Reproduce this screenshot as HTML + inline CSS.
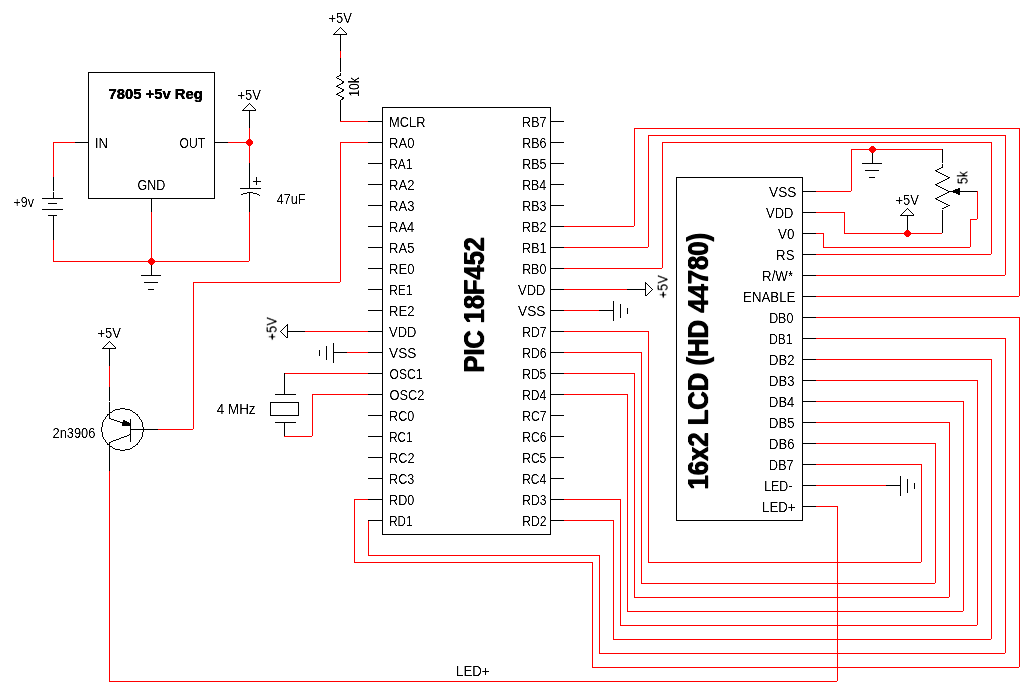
<!DOCTYPE html>
<html><head><meta charset="utf-8"><style>
html,body{margin:0;padding:0;background:#fff;width:1035px;height:696px;overflow:hidden}
svg{display:block}
text{font-family:"Liberation Sans",sans-serif;fill:#000}
</style></head><body>
<svg width="1035" height="696" viewBox="0 0 1035 696" shape-rendering="crispEdges">
<rect x="0" y="0" width="1035" height="696" fill="#fff"/>
<rect x="88" y="72" width="127" height="1" fill="#000000"/>
<rect x="88" y="198" width="127" height="1" fill="#000000"/>
<rect x="88" y="72" width="1" height="127" fill="#000000"/>
<rect x="214" y="72" width="1" height="127" fill="#000000"/>
<rect x="74" y="142" width="15" height="1" fill="#000000"/>
<rect x="53" y="142" width="22" height="1" fill="#ff0000"/>
<rect x="53" y="142" width="1" height="36" fill="#ff0000"/>
<rect x="53" y="177" width="1" height="14" fill="#000000"/>
<rect x="53" y="192" width="1" height="7" fill="#000000"/>
<rect x="42" y="198" width="21" height="1" fill="#000000"/>
<rect x="48" y="203" width="9" height="1" fill="#000000"/>
<rect x="42" y="209" width="21" height="1" fill="#000000"/>
<rect x="48" y="215" width="9" height="1" fill="#000000"/>
<rect x="53" y="215" width="1" height="26" fill="#000000"/>
<rect x="53" y="240" width="1" height="22" fill="#ff0000"/>
<rect x="53" y="261" width="197" height="1" fill="#ff0000"/>
<rect x="151" y="198" width="1" height="15" fill="#000000"/>
<rect x="151" y="212" width="1" height="50" fill="#ff0000"/>
<rect x="151" y="261" width="1" height="15" fill="#000000"/>
<rect x="141" y="275" width="20" height="1" fill="#000000"/>
<rect x="144" y="282" width="14" height="1" fill="#000000"/>
<rect x="148" y="289" width="6" height="1" fill="#000000"/>
<rect x="214" y="142" width="15" height="1" fill="#000000"/>
<rect x="228" y="142" width="22" height="1" fill="#ff0000"/>
<rect x="242" y="110" width="14" height="1" fill="#000000"/>
<rect x="249" y="103" width="1" height="1" fill="#000000"/>
<rect x="248" y="104" width="1" height="1" fill="#000000"/>
<rect x="247" y="105" width="1" height="1" fill="#000000"/>
<rect x="246" y="106" width="1" height="1" fill="#000000"/>
<rect x="245" y="107" width="1" height="1" fill="#000000"/>
<rect x="244" y="108" width="1" height="1" fill="#000000"/>
<rect x="243" y="109" width="1" height="1" fill="#000000"/>
<rect x="242" y="110" width="1" height="1" fill="#000000"/>
<rect x="249" y="103" width="1" height="1" fill="#000000"/>
<rect x="250" y="104" width="1" height="1" fill="#000000"/>
<rect x="251" y="105" width="1" height="1" fill="#000000"/>
<rect x="252" y="106" width="1" height="1" fill="#000000"/>
<rect x="253" y="107" width="1" height="1" fill="#000000"/>
<rect x="254" y="108" width="1" height="1" fill="#000000"/>
<rect x="255" y="109" width="1" height="1" fill="#000000"/>
<rect x="249" y="110" width="1" height="19" fill="#000000"/>
<rect x="249" y="128" width="1" height="35" fill="#ff0000"/>
<rect x="249" y="163" width="1" height="26" fill="#000000"/>
<rect x="240" y="188" width="21" height="1" fill="#000000"/>
<rect x="241" y="194" width="2" height="1" fill="#000000"/>
<rect x="243" y="193" width="4" height="1" fill="#000000"/>
<rect x="247" y="192" width="6" height="1" fill="#000000"/>
<rect x="253" y="193" width="4" height="1" fill="#000000"/>
<rect x="257" y="194" width="2" height="1" fill="#000000"/>
<rect x="259" y="195" width="1" height="1" fill="#000000"/>
<rect x="249" y="192" width="1" height="21" fill="#000000"/>
<rect x="249" y="212" width="1" height="50" fill="#ff0000"/>
<rect x="253" y="181" width="8" height="1" fill="#000000"/>
<rect x="256" y="177" width="1" height="8" fill="#000000"/>
<rect x="333" y="34" width="14" height="1" fill="#000000"/>
<rect x="340" y="27" width="1" height="1" fill="#000000"/>
<rect x="339" y="28" width="1" height="1" fill="#000000"/>
<rect x="338" y="29" width="1" height="1" fill="#000000"/>
<rect x="337" y="30" width="1" height="1" fill="#000000"/>
<rect x="336" y="31" width="1" height="1" fill="#000000"/>
<rect x="335" y="32" width="1" height="1" fill="#000000"/>
<rect x="334" y="33" width="1" height="1" fill="#000000"/>
<rect x="333" y="34" width="1" height="1" fill="#000000"/>
<rect x="340" y="27" width="1" height="1" fill="#000000"/>
<rect x="341" y="28" width="1" height="1" fill="#000000"/>
<rect x="342" y="29" width="1" height="1" fill="#000000"/>
<rect x="343" y="30" width="1" height="1" fill="#000000"/>
<rect x="344" y="31" width="1" height="1" fill="#000000"/>
<rect x="345" y="32" width="1" height="1" fill="#000000"/>
<rect x="346" y="33" width="1" height="1" fill="#000000"/>
<rect x="340" y="34" width="1" height="18" fill="#000000"/>
<rect x="340" y="51" width="1" height="7" fill="#ff0000"/>
<rect x="340" y="58" width="1" height="14" fill="#000000"/>
<rect x="340" y="73" width="1" height="1" fill="#000000"/>
<rect x="340" y="74" width="1" height="1" fill="#000000"/>
<rect x="339" y="75" width="2" height="1" fill="#000000"/>
<rect x="337" y="76" width="2" height="1" fill="#000000"/>
<rect x="336" y="77" width="1" height="1" fill="#000000"/>
<rect x="337" y="78" width="2" height="1" fill="#000000"/>
<rect x="339" y="79" width="2" height="1" fill="#000000"/>
<rect x="341" y="80" width="1" height="1" fill="#000000"/>
<rect x="342" y="81" width="2" height="1" fill="#000000"/>
<rect x="342" y="82" width="2" height="1" fill="#000000"/>
<rect x="341" y="83" width="2" height="1" fill="#000000"/>
<rect x="339" y="84" width="2" height="1" fill="#000000"/>
<rect x="337" y="85" width="2" height="1" fill="#000000"/>
<rect x="336" y="86" width="2" height="1" fill="#000000"/>
<rect x="338" y="87" width="2" height="1" fill="#000000"/>
<rect x="340" y="88" width="2" height="1" fill="#000000"/>
<rect x="342" y="89" width="2" height="1" fill="#000000"/>
<rect x="342" y="90" width="2" height="1" fill="#000000"/>
<rect x="341" y="91" width="2" height="1" fill="#000000"/>
<rect x="339" y="92" width="2" height="1" fill="#000000"/>
<rect x="337" y="93" width="2" height="1" fill="#000000"/>
<rect x="336" y="94" width="2" height="1" fill="#000000"/>
<rect x="338" y="95" width="2" height="1" fill="#000000"/>
<rect x="340" y="96" width="2" height="1" fill="#000000"/>
<rect x="342" y="97" width="2" height="1" fill="#000000"/>
<rect x="342" y="98" width="2" height="1" fill="#000000"/>
<rect x="341" y="99" width="2" height="1" fill="#000000"/>
<rect x="340" y="100" width="1" height="22" fill="#000000"/>
<rect x="340" y="121" width="29" height="1" fill="#ff0000"/>
<rect x="382" y="107" width="169" height="1" fill="#000000"/>
<rect x="382" y="534" width="169" height="1" fill="#000000"/>
<rect x="382" y="107" width="1" height="428" fill="#000000"/>
<rect x="550" y="107" width="1" height="428" fill="#000000"/>
<rect x="340" y="142" width="29" height="1" fill="#ff0000"/>
<rect x="340" y="142" width="1" height="141" fill="#ff0000"/>
<rect x="193" y="282" width="148" height="1" fill="#ff0000"/>
<rect x="193" y="282" width="1" height="148" fill="#ff0000"/>
<rect x="157" y="429" width="37" height="1" fill="#ff0000"/>
<rect x="130" y="429" width="28" height="1" fill="#000000"/>
<rect x="287" y="324" width="1" height="14" fill="#000000"/>
<rect x="280" y="331" width="1" height="1" fill="#000000"/>
<rect x="281" y="330" width="1" height="1" fill="#000000"/>
<rect x="282" y="329" width="1" height="1" fill="#000000"/>
<rect x="283" y="328" width="1" height="1" fill="#000000"/>
<rect x="284" y="327" width="1" height="1" fill="#000000"/>
<rect x="285" y="326" width="1" height="1" fill="#000000"/>
<rect x="286" y="325" width="1" height="1" fill="#000000"/>
<rect x="287" y="324" width="1" height="1" fill="#000000"/>
<rect x="280" y="331" width="1" height="1" fill="#000000"/>
<rect x="281" y="332" width="1" height="1" fill="#000000"/>
<rect x="282" y="333" width="1" height="1" fill="#000000"/>
<rect x="283" y="334" width="1" height="1" fill="#000000"/>
<rect x="284" y="335" width="1" height="1" fill="#000000"/>
<rect x="285" y="336" width="1" height="1" fill="#000000"/>
<rect x="286" y="337" width="1" height="1" fill="#000000"/>
<rect x="288" y="331" width="18" height="1" fill="#000000"/>
<rect x="305" y="331" width="64" height="1" fill="#ff0000"/>
<rect x="333" y="343" width="1" height="20" fill="#000000"/>
<rect x="326" y="346" width="1" height="14" fill="#000000"/>
<rect x="319" y="350" width="1" height="6" fill="#000000"/>
<rect x="333" y="352" width="15" height="1" fill="#000000"/>
<rect x="347" y="352" width="22" height="1" fill="#ff0000"/>
<rect x="284" y="373" width="85" height="1" fill="#ff0000"/>
<rect x="284" y="373" width="1" height="22" fill="#000000"/>
<rect x="275" y="394" width="21" height="1" fill="#000000"/>
<rect x="270" y="402" width="29" height="1" fill="#000000"/>
<rect x="270" y="415" width="29" height="1" fill="#000000"/>
<rect x="270" y="402" width="1" height="14" fill="#000000"/>
<rect x="298" y="402" width="1" height="14" fill="#000000"/>
<rect x="275" y="422" width="21" height="1" fill="#000000"/>
<rect x="284" y="422" width="1" height="15" fill="#000000"/>
<rect x="284" y="436" width="29" height="1" fill="#ff0000"/>
<rect x="312" y="394" width="1" height="43" fill="#ff0000"/>
<rect x="312" y="394" width="57" height="1" fill="#ff0000"/>
<rect x="354" y="499" width="15" height="1" fill="#ff0000"/>
<rect x="354" y="499" width="1" height="64" fill="#ff0000"/>
<rect x="354" y="562" width="239" height="1" fill="#ff0000"/>
<rect x="592" y="562" width="1" height="106" fill="#ff0000"/>
<rect x="592" y="667" width="428" height="1" fill="#ff0000"/>
<rect x="368" y="520" width="1" height="36" fill="#ff0000"/>
<rect x="368" y="555" width="232" height="1" fill="#ff0000"/>
<rect x="599" y="555" width="1" height="99" fill="#ff0000"/>
<rect x="599" y="653" width="407" height="1" fill="#ff0000"/>
<rect x="564" y="226" width="71" height="1" fill="#ff0000"/>
<rect x="634" y="128" width="1" height="99" fill="#ff0000"/>
<rect x="634" y="128" width="386" height="1" fill="#ff0000"/>
<rect x="1019" y="128" width="1" height="169" fill="#ff0000"/>
<rect x="816" y="296" width="204" height="1" fill="#ff0000"/>
<rect x="564" y="247" width="85" height="1" fill="#ff0000"/>
<rect x="648" y="135" width="1" height="113" fill="#ff0000"/>
<rect x="648" y="135" width="358" height="1" fill="#ff0000"/>
<rect x="1005" y="135" width="1" height="141" fill="#ff0000"/>
<rect x="816" y="275" width="190" height="1" fill="#ff0000"/>
<rect x="564" y="268" width="99" height="1" fill="#ff0000"/>
<rect x="662" y="142" width="1" height="127" fill="#ff0000"/>
<rect x="662" y="142" width="330" height="1" fill="#ff0000"/>
<rect x="991" y="142" width="1" height="113" fill="#ff0000"/>
<rect x="816" y="254" width="176" height="1" fill="#ff0000"/>
<rect x="564" y="289" width="64" height="1" fill="#ff0000"/>
<rect x="627" y="289" width="19" height="1" fill="#000000"/>
<rect x="645" y="282" width="1" height="14" fill="#000000"/>
<rect x="645" y="282" width="1" height="1" fill="#000000"/>
<rect x="646" y="283" width="1" height="1" fill="#000000"/>
<rect x="647" y="284" width="1" height="1" fill="#000000"/>
<rect x="648" y="285" width="1" height="1" fill="#000000"/>
<rect x="649" y="286" width="1" height="1" fill="#000000"/>
<rect x="650" y="287" width="1" height="1" fill="#000000"/>
<rect x="651" y="288" width="1" height="1" fill="#000000"/>
<rect x="652" y="289" width="1" height="1" fill="#000000"/>
<rect x="652" y="289" width="1" height="1" fill="#000000"/>
<rect x="651" y="290" width="1" height="1" fill="#000000"/>
<rect x="650" y="291" width="1" height="1" fill="#000000"/>
<rect x="649" y="292" width="1" height="1" fill="#000000"/>
<rect x="648" y="293" width="1" height="1" fill="#000000"/>
<rect x="647" y="294" width="1" height="1" fill="#000000"/>
<rect x="646" y="295" width="1" height="1" fill="#000000"/>
<rect x="564" y="310" width="36" height="1" fill="#ff0000"/>
<rect x="599" y="310" width="15" height="1" fill="#000000"/>
<rect x="613" y="301" width="1" height="20" fill="#000000"/>
<rect x="620" y="304" width="1" height="14" fill="#000000"/>
<rect x="627" y="308" width="1" height="6" fill="#000000"/>
<rect x="564" y="331" width="85" height="1" fill="#ff0000"/>
<rect x="648" y="331" width="1" height="232" fill="#ff0000"/>
<rect x="648" y="562" width="274" height="1" fill="#ff0000"/>
<rect x="921" y="464" width="1" height="99" fill="#ff0000"/>
<rect x="816" y="464" width="106" height="1" fill="#ff0000"/>
<rect x="564" y="352" width="78" height="1" fill="#ff0000"/>
<rect x="641" y="352" width="1" height="232" fill="#ff0000"/>
<rect x="641" y="583" width="295" height="1" fill="#ff0000"/>
<rect x="935" y="443" width="1" height="141" fill="#ff0000"/>
<rect x="816" y="443" width="120" height="1" fill="#ff0000"/>
<rect x="564" y="373" width="71" height="1" fill="#ff0000"/>
<rect x="634" y="373" width="1" height="225" fill="#ff0000"/>
<rect x="634" y="597" width="316" height="1" fill="#ff0000"/>
<rect x="949" y="422" width="1" height="176" fill="#ff0000"/>
<rect x="816" y="422" width="134" height="1" fill="#ff0000"/>
<rect x="564" y="394" width="64" height="1" fill="#ff0000"/>
<rect x="627" y="394" width="1" height="218" fill="#ff0000"/>
<rect x="627" y="611" width="337" height="1" fill="#ff0000"/>
<rect x="963" y="401" width="1" height="211" fill="#ff0000"/>
<rect x="816" y="401" width="148" height="1" fill="#ff0000"/>
<rect x="564" y="499" width="57" height="1" fill="#ff0000"/>
<rect x="620" y="499" width="1" height="127" fill="#ff0000"/>
<rect x="620" y="625" width="358" height="1" fill="#ff0000"/>
<rect x="977" y="380" width="1" height="246" fill="#ff0000"/>
<rect x="816" y="380" width="162" height="1" fill="#ff0000"/>
<rect x="564" y="520" width="50" height="1" fill="#ff0000"/>
<rect x="613" y="520" width="1" height="120" fill="#ff0000"/>
<rect x="613" y="639" width="379" height="1" fill="#ff0000"/>
<rect x="991" y="359" width="1" height="281" fill="#ff0000"/>
<rect x="816" y="359" width="176" height="1" fill="#ff0000"/>
<rect x="1019" y="317" width="1" height="351" fill="#ff0000"/>
<rect x="816" y="317" width="204" height="1" fill="#ff0000"/>
<rect x="1005" y="338" width="1" height="316" fill="#ff0000"/>
<rect x="816" y="338" width="190" height="1" fill="#ff0000"/>
<rect x="676" y="177" width="127" height="1" fill="#000000"/>
<rect x="676" y="520" width="127" height="1" fill="#000000"/>
<rect x="676" y="177" width="1" height="344" fill="#000000"/>
<rect x="802" y="177" width="1" height="344" fill="#000000"/>
<rect x="816" y="191" width="36" height="1" fill="#ff0000"/>
<rect x="851" y="149" width="1" height="43" fill="#ff0000"/>
<rect x="851" y="149" width="92" height="1" fill="#ff0000"/>
<rect x="872" y="149" width="1" height="15" fill="#000000"/>
<rect x="862" y="163" width="20" height="1" fill="#000000"/>
<rect x="865" y="170" width="14" height="1" fill="#000000"/>
<rect x="869" y="177" width="6" height="1" fill="#000000"/>
<rect x="942" y="149" width="1" height="14" fill="#000000"/>
<rect x="937" y="197" width="2" height="1" fill="#000000"/>
<rect x="935" y="198" width="2" height="1" fill="#000000"/>
<rect x="947" y="192" width="2" height="1" fill="#000000"/>
<rect x="937" y="169" width="2" height="1" fill="#000000"/>
<rect x="941" y="195" width="2" height="1" fill="#000000"/>
<rect x="943" y="194" width="2" height="1" fill="#000000"/>
<rect x="944" y="203" width="2" height="1" fill="#000000"/>
<rect x="939" y="182" width="2" height="1" fill="#000000"/>
<rect x="938" y="200" width="2" height="1" fill="#000000"/>
<rect x="937" y="183" width="2" height="1" fill="#000000"/>
<rect x="942" y="188" width="2" height="1" fill="#000000"/>
<rect x="946" y="204" width="2" height="1" fill="#000000"/>
<rect x="935" y="184" width="2" height="1" fill="#000000"/>
<rect x="947" y="178" width="2" height="1" fill="#000000"/>
<rect x="941" y="181" width="2" height="1" fill="#000000"/>
<rect x="948" y="205" width="2" height="1" fill="#000000"/>
<rect x="940" y="201" width="2" height="1" fill="#000000"/>
<rect x="943" y="180" width="2" height="1" fill="#000000"/>
<rect x="944" y="189" width="2" height="1" fill="#000000"/>
<rect x="946" y="206" width="2" height="1" fill="#000000"/>
<rect x="939" y="168" width="2" height="1" fill="#000000"/>
<rect x="942" y="164" width="1" height="1" fill="#000000"/>
<rect x="938" y="186" width="2" height="1" fill="#000000"/>
<rect x="942" y="202" width="2" height="1" fill="#000000"/>
<rect x="942" y="174" width="2" height="1" fill="#000000"/>
<rect x="946" y="190" width="2" height="1" fill="#000000"/>
<rect x="935" y="170" width="2" height="1" fill="#000000"/>
<rect x="936" y="199" width="2" height="1" fill="#000000"/>
<rect x="941" y="167" width="2" height="1" fill="#000000"/>
<rect x="942" y="166" width="1" height="1" fill="#000000"/>
<rect x="948" y="191" width="2" height="1" fill="#000000"/>
<rect x="940" y="187" width="2" height="1" fill="#000000"/>
<rect x="939" y="196" width="2" height="1" fill="#000000"/>
<rect x="945" y="193" width="2" height="1" fill="#000000"/>
<rect x="944" y="175" width="2" height="1" fill="#000000"/>
<rect x="938" y="172" width="2" height="1" fill="#000000"/>
<rect x="946" y="176" width="2" height="1" fill="#000000"/>
<rect x="936" y="185" width="2" height="1" fill="#000000"/>
<rect x="948" y="177" width="2" height="1" fill="#000000"/>
<rect x="940" y="173" width="2" height="1" fill="#000000"/>
<rect x="942" y="208" width="2" height="1" fill="#000000"/>
<rect x="944" y="207" width="2" height="1" fill="#000000"/>
<rect x="945" y="179" width="2" height="1" fill="#000000"/>
<rect x="936" y="171" width="2" height="1" fill="#000000"/>
<rect x="942" y="165" width="1" height="1" fill="#000000"/>
<rect x="942" y="210" width="1" height="24" fill="#000000"/>
<rect x="950" y="191" width="28" height="1" fill="#000000"/>
<rect x="958" y="188" width="2" height="1" fill="#000000"/>
<rect x="955" y="189" width="5" height="1" fill="#000000"/>
<rect x="953" y="190" width="7" height="1" fill="#000000"/>
<rect x="953" y="191" width="7" height="1" fill="#000000"/>
<rect x="953" y="192" width="7" height="1" fill="#000000"/>
<rect x="956" y="193" width="4" height="1" fill="#000000"/>
<rect x="958" y="194" width="2" height="1" fill="#000000"/>
<rect x="977" y="191" width="1" height="29" fill="#ff0000"/>
<rect x="970" y="219" width="8" height="1" fill="#ff0000"/>
<rect x="970" y="219" width="1" height="29" fill="#ff0000"/>
<rect x="816" y="212" width="29" height="1" fill="#ff0000"/>
<rect x="844" y="212" width="1" height="22" fill="#ff0000"/>
<rect x="844" y="233" width="99" height="1" fill="#ff0000"/>
<rect x="907" y="215" width="1" height="19" fill="#000000"/>
<rect x="900" y="215" width="14" height="1" fill="#000000"/>
<rect x="907" y="208" width="1" height="1" fill="#000000"/>
<rect x="906" y="209" width="1" height="1" fill="#000000"/>
<rect x="905" y="210" width="1" height="1" fill="#000000"/>
<rect x="904" y="211" width="1" height="1" fill="#000000"/>
<rect x="903" y="212" width="1" height="1" fill="#000000"/>
<rect x="902" y="213" width="1" height="1" fill="#000000"/>
<rect x="901" y="214" width="1" height="1" fill="#000000"/>
<rect x="900" y="215" width="1" height="1" fill="#000000"/>
<rect x="907" y="208" width="1" height="1" fill="#000000"/>
<rect x="908" y="209" width="1" height="1" fill="#000000"/>
<rect x="909" y="210" width="1" height="1" fill="#000000"/>
<rect x="910" y="211" width="1" height="1" fill="#000000"/>
<rect x="911" y="212" width="1" height="1" fill="#000000"/>
<rect x="912" y="213" width="1" height="1" fill="#000000"/>
<rect x="913" y="214" width="1" height="1" fill="#000000"/>
<rect x="816" y="233" width="8" height="1" fill="#ff0000"/>
<rect x="823" y="233" width="1" height="15" fill="#ff0000"/>
<rect x="823" y="247" width="148" height="1" fill="#ff0000"/>
<rect x="816" y="485" width="71" height="1" fill="#ff0000"/>
<rect x="886" y="485" width="15" height="1" fill="#000000"/>
<rect x="900" y="476" width="1" height="20" fill="#000000"/>
<rect x="907" y="479" width="1" height="14" fill="#000000"/>
<rect x="914" y="483" width="1" height="6" fill="#000000"/>
<rect x="816" y="506" width="22" height="1" fill="#ff0000"/>
<rect x="837" y="506" width="1" height="176" fill="#ff0000"/>
<rect x="109" y="681" width="729" height="1" fill="#ff0000"/>
<rect x="102" y="348" width="14" height="1" fill="#000000"/>
<rect x="109" y="341" width="1" height="1" fill="#000000"/>
<rect x="108" y="342" width="1" height="1" fill="#000000"/>
<rect x="107" y="343" width="1" height="1" fill="#000000"/>
<rect x="106" y="344" width="1" height="1" fill="#000000"/>
<rect x="105" y="345" width="1" height="1" fill="#000000"/>
<rect x="104" y="346" width="1" height="1" fill="#000000"/>
<rect x="103" y="347" width="1" height="1" fill="#000000"/>
<rect x="102" y="348" width="1" height="1" fill="#000000"/>
<rect x="109" y="341" width="1" height="1" fill="#000000"/>
<rect x="110" y="342" width="1" height="1" fill="#000000"/>
<rect x="111" y="343" width="1" height="1" fill="#000000"/>
<rect x="112" y="344" width="1" height="1" fill="#000000"/>
<rect x="113" y="345" width="1" height="1" fill="#000000"/>
<rect x="114" y="346" width="1" height="1" fill="#000000"/>
<rect x="115" y="347" width="1" height="1" fill="#000000"/>
<rect x="109" y="348" width="1" height="19" fill="#000000"/>
<rect x="109" y="366" width="1" height="22" fill="#ff0000"/>
<rect x="109" y="387" width="1" height="14" fill="#000000"/>
<rect x="109" y="402" width="1" height="17" fill="#000000"/>
<rect x="101" y="427" width="1" height="1" fill="#000000"/>
<rect x="101" y="428" width="1" height="1" fill="#000000"/>
<rect x="101" y="429" width="1" height="1" fill="#000000"/>
<rect x="101" y="430" width="1" height="1" fill="#000000"/>
<rect x="101" y="431" width="1" height="1" fill="#000000"/>
<rect x="102" y="422" width="1" height="1" fill="#000000"/>
<rect x="102" y="423" width="1" height="1" fill="#000000"/>
<rect x="102" y="424" width="1" height="1" fill="#000000"/>
<rect x="102" y="425" width="1" height="1" fill="#000000"/>
<rect x="102" y="426" width="1" height="1" fill="#000000"/>
<rect x="102" y="432" width="1" height="1" fill="#000000"/>
<rect x="102" y="433" width="1" height="1" fill="#000000"/>
<rect x="102" y="434" width="1" height="1" fill="#000000"/>
<rect x="102" y="435" width="1" height="1" fill="#000000"/>
<rect x="102" y="436" width="1" height="1" fill="#000000"/>
<rect x="103" y="420" width="1" height="1" fill="#000000"/>
<rect x="103" y="421" width="1" height="1" fill="#000000"/>
<rect x="103" y="437" width="1" height="1" fill="#000000"/>
<rect x="103" y="438" width="1" height="1" fill="#000000"/>
<rect x="104" y="419" width="1" height="1" fill="#000000"/>
<rect x="104" y="439" width="1" height="1" fill="#000000"/>
<rect x="105" y="417" width="1" height="1" fill="#000000"/>
<rect x="105" y="418" width="1" height="1" fill="#000000"/>
<rect x="105" y="440" width="1" height="1" fill="#000000"/>
<rect x="105" y="441" width="1" height="1" fill="#000000"/>
<rect x="106" y="416" width="1" height="1" fill="#000000"/>
<rect x="106" y="442" width="1" height="1" fill="#000000"/>
<rect x="107" y="414" width="1" height="1" fill="#000000"/>
<rect x="107" y="415" width="1" height="1" fill="#000000"/>
<rect x="107" y="443" width="1" height="1" fill="#000000"/>
<rect x="107" y="444" width="1" height="1" fill="#000000"/>
<rect x="108" y="414" width="1" height="1" fill="#000000"/>
<rect x="108" y="444" width="1" height="1" fill="#000000"/>
<rect x="109" y="413" width="1" height="1" fill="#000000"/>
<rect x="109" y="445" width="1" height="1" fill="#000000"/>
<rect x="110" y="412" width="1" height="1" fill="#000000"/>
<rect x="110" y="446" width="1" height="1" fill="#000000"/>
<rect x="111" y="412" width="1" height="1" fill="#000000"/>
<rect x="111" y="446" width="1" height="1" fill="#000000"/>
<rect x="112" y="411" width="1" height="1" fill="#000000"/>
<rect x="112" y="447" width="1" height="1" fill="#000000"/>
<rect x="113" y="410" width="1" height="1" fill="#000000"/>
<rect x="113" y="448" width="1" height="1" fill="#000000"/>
<rect x="114" y="410" width="1" height="1" fill="#000000"/>
<rect x="114" y="448" width="1" height="1" fill="#000000"/>
<rect x="115" y="409" width="1" height="1" fill="#000000"/>
<rect x="115" y="449" width="1" height="1" fill="#000000"/>
<rect x="116" y="409" width="1" height="1" fill="#000000"/>
<rect x="116" y="449" width="1" height="1" fill="#000000"/>
<rect x="117" y="409" width="1" height="1" fill="#000000"/>
<rect x="117" y="449" width="1" height="1" fill="#000000"/>
<rect x="118" y="409" width="1" height="1" fill="#000000"/>
<rect x="118" y="449" width="1" height="1" fill="#000000"/>
<rect x="119" y="409" width="1" height="1" fill="#000000"/>
<rect x="119" y="449" width="1" height="1" fill="#000000"/>
<rect x="120" y="408" width="1" height="1" fill="#000000"/>
<rect x="120" y="450" width="1" height="1" fill="#000000"/>
<rect x="121" y="408" width="1" height="1" fill="#000000"/>
<rect x="121" y="450" width="1" height="1" fill="#000000"/>
<rect x="122" y="408" width="1" height="1" fill="#000000"/>
<rect x="122" y="450" width="1" height="1" fill="#000000"/>
<rect x="123" y="408" width="1" height="1" fill="#000000"/>
<rect x="123" y="450" width="1" height="1" fill="#000000"/>
<rect x="124" y="408" width="1" height="1" fill="#000000"/>
<rect x="124" y="450" width="1" height="1" fill="#000000"/>
<rect x="125" y="409" width="1" height="1" fill="#000000"/>
<rect x="125" y="449" width="1" height="1" fill="#000000"/>
<rect x="126" y="409" width="1" height="1" fill="#000000"/>
<rect x="126" y="449" width="1" height="1" fill="#000000"/>
<rect x="127" y="409" width="1" height="1" fill="#000000"/>
<rect x="127" y="449" width="1" height="1" fill="#000000"/>
<rect x="128" y="409" width="1" height="1" fill="#000000"/>
<rect x="128" y="449" width="1" height="1" fill="#000000"/>
<rect x="129" y="409" width="1" height="1" fill="#000000"/>
<rect x="129" y="449" width="1" height="1" fill="#000000"/>
<rect x="130" y="410" width="1" height="1" fill="#000000"/>
<rect x="130" y="448" width="1" height="1" fill="#000000"/>
<rect x="131" y="410" width="1" height="1" fill="#000000"/>
<rect x="131" y="448" width="1" height="1" fill="#000000"/>
<rect x="132" y="411" width="1" height="1" fill="#000000"/>
<rect x="132" y="447" width="1" height="1" fill="#000000"/>
<rect x="133" y="412" width="1" height="1" fill="#000000"/>
<rect x="133" y="446" width="1" height="1" fill="#000000"/>
<rect x="134" y="412" width="1" height="1" fill="#000000"/>
<rect x="134" y="446" width="1" height="1" fill="#000000"/>
<rect x="135" y="413" width="1" height="1" fill="#000000"/>
<rect x="135" y="445" width="1" height="1" fill="#000000"/>
<rect x="136" y="414" width="1" height="1" fill="#000000"/>
<rect x="136" y="444" width="1" height="1" fill="#000000"/>
<rect x="137" y="414" width="1" height="1" fill="#000000"/>
<rect x="137" y="415" width="1" height="1" fill="#000000"/>
<rect x="137" y="443" width="1" height="1" fill="#000000"/>
<rect x="137" y="444" width="1" height="1" fill="#000000"/>
<rect x="138" y="416" width="1" height="1" fill="#000000"/>
<rect x="138" y="442" width="1" height="1" fill="#000000"/>
<rect x="139" y="417" width="1" height="1" fill="#000000"/>
<rect x="139" y="418" width="1" height="1" fill="#000000"/>
<rect x="139" y="440" width="1" height="1" fill="#000000"/>
<rect x="139" y="441" width="1" height="1" fill="#000000"/>
<rect x="140" y="419" width="1" height="1" fill="#000000"/>
<rect x="140" y="439" width="1" height="1" fill="#000000"/>
<rect x="141" y="420" width="1" height="1" fill="#000000"/>
<rect x="141" y="421" width="1" height="1" fill="#000000"/>
<rect x="141" y="437" width="1" height="1" fill="#000000"/>
<rect x="141" y="438" width="1" height="1" fill="#000000"/>
<rect x="142" y="422" width="1" height="1" fill="#000000"/>
<rect x="142" y="423" width="1" height="1" fill="#000000"/>
<rect x="142" y="424" width="1" height="1" fill="#000000"/>
<rect x="142" y="425" width="1" height="1" fill="#000000"/>
<rect x="142" y="426" width="1" height="1" fill="#000000"/>
<rect x="142" y="432" width="1" height="1" fill="#000000"/>
<rect x="142" y="433" width="1" height="1" fill="#000000"/>
<rect x="142" y="434" width="1" height="1" fill="#000000"/>
<rect x="142" y="435" width="1" height="1" fill="#000000"/>
<rect x="142" y="436" width="1" height="1" fill="#000000"/>
<rect x="143" y="427" width="1" height="1" fill="#000000"/>
<rect x="143" y="428" width="1" height="1" fill="#000000"/>
<rect x="143" y="429" width="1" height="1" fill="#000000"/>
<rect x="143" y="430" width="1" height="1" fill="#000000"/>
<rect x="143" y="431" width="1" height="1" fill="#000000"/>
<rect x="130" y="419" width="1" height="23" fill="#000000"/>
<rect x="120" y="422" width="3" height="1" fill="#000000"/>
<rect x="111" y="419" width="3" height="1" fill="#000000"/>
<rect x="126" y="424" width="3" height="1" fill="#000000"/>
<rect x="117" y="421" width="3" height="1" fill="#000000"/>
<rect x="123" y="423" width="3" height="1" fill="#000000"/>
<rect x="114" y="420" width="3" height="1" fill="#000000"/>
<rect x="109" y="418" width="2" height="1" fill="#000000"/>
<rect x="129" y="425" width="2" height="1" fill="#000000"/>
<rect x="123" y="420" width="2" height="1" fill="#000000"/>
<rect x="123" y="421" width="4" height="1" fill="#000000"/>
<rect x="120" y="422" width="9" height="1" fill="#000000"/>
<rect x="122" y="423" width="9" height="1" fill="#000000"/>
<rect x="122" y="424" width="9" height="1" fill="#000000"/>
<rect x="122" y="425" width="9" height="1" fill="#000000"/>
<rect x="127" y="435" width="2" height="1" fill="#000000"/>
<rect x="119" y="438" width="2" height="1" fill="#000000"/>
<rect x="124" y="436" width="3" height="1" fill="#000000"/>
<rect x="116" y="439" width="3" height="1" fill="#000000"/>
<rect x="113" y="440" width="3" height="1" fill="#000000"/>
<rect x="111" y="441" width="2" height="1" fill="#000000"/>
<rect x="109" y="442" width="2" height="1" fill="#000000"/>
<rect x="129" y="434" width="2" height="1" fill="#000000"/>
<rect x="121" y="437" width="3" height="1" fill="#000000"/>
<rect x="109" y="442" width="1" height="29" fill="#000000"/>
<rect x="109" y="471" width="1" height="211" fill="#ff0000"/>
<rect x="193" y="429" width="1" height="1" fill="#fff"/>
<rect x="340" y="282" width="1" height="1" fill="#fff"/>
<rect x="249" y="261" width="1" height="1" fill="#fff"/>
<rect x="312" y="436" width="1" height="1" fill="#fff"/>
<rect x="634" y="226" width="1" height="1" fill="#fff"/>
<rect x="648" y="247" width="1" height="1" fill="#fff"/>
<rect x="662" y="268" width="1" height="1" fill="#fff"/>
<rect x="851" y="191" width="1" height="1" fill="#fff"/>
<rect x="942" y="233" width="1" height="1" fill="#fff"/>
<rect x="970" y="247" width="1" height="1" fill="#fff"/>
<rect x="977" y="219" width="1" height="1" fill="#fff"/>
<rect x="991" y="254" width="1" height="1" fill="#fff"/>
<rect x="1005" y="275" width="1" height="1" fill="#fff"/>
<rect x="1019" y="296" width="1" height="1" fill="#fff"/>
<rect x="921" y="562" width="1" height="1" fill="#fff"/>
<rect x="935" y="583" width="1" height="1" fill="#fff"/>
<rect x="949" y="597" width="1" height="1" fill="#fff"/>
<rect x="963" y="611" width="1" height="1" fill="#fff"/>
<rect x="977" y="625" width="1" height="1" fill="#fff"/>
<rect x="991" y="639" width="1" height="1" fill="#fff"/>
<rect x="1005" y="653" width="1" height="1" fill="#fff"/>
<rect x="1019" y="667" width="1" height="1" fill="#fff"/>
<rect x="837" y="681" width="1" height="1" fill="#fff"/>
<rect x="368" y="121" width="15" height="1" fill="#000000"/>
<rect x="550" y="121" width="14" height="1" fill="#000000"/>
<rect x="368" y="142" width="15" height="1" fill="#000000"/>
<rect x="550" y="142" width="14" height="1" fill="#000000"/>
<rect x="368" y="163" width="15" height="1" fill="#000000"/>
<rect x="550" y="163" width="14" height="1" fill="#000000"/>
<rect x="368" y="184" width="15" height="1" fill="#000000"/>
<rect x="550" y="184" width="14" height="1" fill="#000000"/>
<rect x="368" y="205" width="15" height="1" fill="#000000"/>
<rect x="550" y="205" width="14" height="1" fill="#000000"/>
<rect x="368" y="226" width="15" height="1" fill="#000000"/>
<rect x="550" y="226" width="14" height="1" fill="#000000"/>
<rect x="368" y="247" width="15" height="1" fill="#000000"/>
<rect x="550" y="247" width="14" height="1" fill="#000000"/>
<rect x="368" y="268" width="15" height="1" fill="#000000"/>
<rect x="550" y="268" width="14" height="1" fill="#000000"/>
<rect x="368" y="289" width="15" height="1" fill="#000000"/>
<rect x="550" y="289" width="14" height="1" fill="#000000"/>
<rect x="368" y="310" width="15" height="1" fill="#000000"/>
<rect x="550" y="310" width="14" height="1" fill="#000000"/>
<rect x="368" y="331" width="15" height="1" fill="#000000"/>
<rect x="550" y="331" width="14" height="1" fill="#000000"/>
<rect x="368" y="352" width="15" height="1" fill="#000000"/>
<rect x="550" y="352" width="14" height="1" fill="#000000"/>
<rect x="368" y="373" width="15" height="1" fill="#000000"/>
<rect x="550" y="373" width="14" height="1" fill="#000000"/>
<rect x="368" y="394" width="15" height="1" fill="#000000"/>
<rect x="550" y="394" width="14" height="1" fill="#000000"/>
<rect x="368" y="415" width="15" height="1" fill="#000000"/>
<rect x="550" y="415" width="14" height="1" fill="#000000"/>
<rect x="368" y="436" width="15" height="1" fill="#000000"/>
<rect x="550" y="436" width="14" height="1" fill="#000000"/>
<rect x="368" y="457" width="15" height="1" fill="#000000"/>
<rect x="550" y="457" width="14" height="1" fill="#000000"/>
<rect x="368" y="478" width="15" height="1" fill="#000000"/>
<rect x="550" y="478" width="14" height="1" fill="#000000"/>
<rect x="368" y="499" width="15" height="1" fill="#000000"/>
<rect x="550" y="499" width="14" height="1" fill="#000000"/>
<rect x="368" y="520" width="15" height="1" fill="#000000"/>
<rect x="550" y="520" width="14" height="1" fill="#000000"/>
<rect x="802" y="191" width="14" height="1" fill="#000000"/>
<rect x="802" y="212" width="14" height="1" fill="#000000"/>
<rect x="802" y="233" width="14" height="1" fill="#000000"/>
<rect x="802" y="254" width="14" height="1" fill="#000000"/>
<rect x="802" y="275" width="14" height="1" fill="#000000"/>
<rect x="802" y="296" width="14" height="1" fill="#000000"/>
<rect x="802" y="317" width="14" height="1" fill="#000000"/>
<rect x="802" y="338" width="14" height="1" fill="#000000"/>
<rect x="802" y="359" width="14" height="1" fill="#000000"/>
<rect x="802" y="380" width="14" height="1" fill="#000000"/>
<rect x="802" y="401" width="14" height="1" fill="#000000"/>
<rect x="802" y="422" width="14" height="1" fill="#000000"/>
<rect x="802" y="443" width="14" height="1" fill="#000000"/>
<rect x="802" y="464" width="14" height="1" fill="#000000"/>
<rect x="802" y="485" width="14" height="1" fill="#000000"/>
<rect x="802" y="506" width="14" height="1" fill="#000000"/>
<rect x="150" y="258" width="3" height="1" fill="#ff0000"/>
<rect x="149" y="259" width="5" height="1" fill="#ff0000"/>
<rect x="148" y="260" width="7" height="3" fill="#ff0000"/>
<rect x="149" y="263" width="5" height="1" fill="#ff0000"/>
<rect x="150" y="264" width="3" height="1" fill="#ff0000"/>
<rect x="248" y="139" width="3" height="1" fill="#ff0000"/>
<rect x="247" y="140" width="5" height="1" fill="#ff0000"/>
<rect x="246" y="141" width="7" height="3" fill="#ff0000"/>
<rect x="247" y="144" width="5" height="1" fill="#ff0000"/>
<rect x="248" y="145" width="3" height="1" fill="#ff0000"/>
<rect x="871" y="146" width="3" height="1" fill="#ff0000"/>
<rect x="870" y="147" width="5" height="1" fill="#ff0000"/>
<rect x="869" y="148" width="7" height="3" fill="#ff0000"/>
<rect x="870" y="151" width="5" height="1" fill="#ff0000"/>
<rect x="871" y="152" width="3" height="1" fill="#ff0000"/>
<rect x="906" y="230" width="3" height="1" fill="#ff0000"/>
<rect x="905" y="231" width="5" height="1" fill="#ff0000"/>
<rect x="904" y="232" width="7" height="3" fill="#ff0000"/>
<rect x="905" y="235" width="5" height="1" fill="#ff0000"/>
<rect x="906" y="236" width="3" height="1" fill="#ff0000"/>
<defs><filter id="bin" x="0" y="0" width="1035" height="696" filterUnits="userSpaceOnUse" color-interpolation-filters="sRGB"><feComponentTransfer><feFuncA type="table" tableValues="0 0 0.5 1 1"/></feComponentTransfer></filter><filter id="binb" x="0" y="0" width="1035" height="696" filterUnits="userSpaceOnUse" color-interpolation-filters="sRGB"><feComponentTransfer><feFuncA type="table" tableValues="0 0.5 1 1 1"/></feComponentTransfer></filter></defs>
<g filter="url(#bin)">
<text transform="translate(94.955 148) scale(1 1.1181)" x="0" y="0" font-size="13" font-weight="normal" textLength="12.951" lengthAdjust="spacingAndGlyphs">IN</text>
<text transform="translate(179.577 148) scale(1 1.1181)" x="0" y="0" font-size="13" font-weight="normal" textLength="25.551" lengthAdjust="spacingAndGlyphs">OUT</text>
<text transform="translate(137.518 190) scale(1 1.1181)" x="0" y="0" font-size="13" font-weight="normal" textLength="27.934" lengthAdjust="spacingAndGlyphs">GND</text>
<text transform="translate(13.544 207) scale(1 1.1181)" x="0" y="0" font-size="13" font-weight="normal" textLength="20.348" lengthAdjust="spacingAndGlyphs">+9v</text>
<text transform="translate(237.518 100) scale(1 1.1181)" x="0" y="0" font-size="13" font-weight="normal" textLength="23.389" lengthAdjust="spacingAndGlyphs">+5V</text>
<text transform="translate(276.863 204) scale(1 1.1181)" x="0" y="0" font-size="13" font-weight="normal" textLength="28.487" lengthAdjust="spacingAndGlyphs">47uF</text>
<text transform="translate(328.518 23) scale(1 1.1181)" x="0" y="0" font-size="13" font-weight="normal" textLength="23.389" lengthAdjust="spacingAndGlyphs">+5V</text>
<text transform="translate(389.098 127) scale(1 1.1181)" x="0" y="0" font-size="13" font-weight="normal" textLength="36.347" lengthAdjust="spacingAndGlyphs">MCLR</text>
<text transform="translate(522.123 127) scale(1 1.1181)" x="0" y="0" font-size="13" font-weight="normal" textLength="24.357" lengthAdjust="spacingAndGlyphs">RB7</text>
<text transform="translate(389.084 148) scale(1 1.1181)" x="0" y="0" font-size="13" font-weight="normal" textLength="25.273" lengthAdjust="spacingAndGlyphs">RA0</text>
<text transform="translate(522.126 148) scale(1 1.1181)" x="0" y="0" font-size="13" font-weight="normal" textLength="24.272" lengthAdjust="spacingAndGlyphs">RB6</text>
<text transform="translate(389.169 169) scale(1 1.1181)" x="0" y="0" font-size="13" font-weight="normal" textLength="23.265" lengthAdjust="spacingAndGlyphs">RA1</text>
<text transform="translate(522.128 169) scale(1 1.1181)" x="0" y="0" font-size="13" font-weight="normal" textLength="24.246" lengthAdjust="spacingAndGlyphs">RB5</text>
<text transform="translate(389.078 190) scale(1 1.1181)" x="0" y="0" font-size="13" font-weight="normal" textLength="25.430" lengthAdjust="spacingAndGlyphs">RA2</text>
<text transform="translate(522.135 190) scale(1 1.1181)" x="0" y="0" font-size="13" font-weight="normal" textLength="24.078" lengthAdjust="spacingAndGlyphs">RB4</text>
<text transform="translate(389.081 211) scale(1 1.1181)" x="0" y="0" font-size="13" font-weight="normal" textLength="25.341" lengthAdjust="spacingAndGlyphs">RA3</text>
<text transform="translate(522.126 211) scale(1 1.1181)" x="0" y="0" font-size="13" font-weight="normal" textLength="24.272" lengthAdjust="spacingAndGlyphs">RB3</text>
<text transform="translate(389.090 232) scale(1 1.1181)" x="0" y="0" font-size="13" font-weight="normal" textLength="25.139" lengthAdjust="spacingAndGlyphs">RA4</text>
<text transform="translate(522.123 232) scale(1 1.1181)" x="0" y="0" font-size="13" font-weight="normal" textLength="24.357" lengthAdjust="spacingAndGlyphs">RB2</text>
<text transform="translate(389.083 253) scale(1 1.1181)" x="0" y="0" font-size="13" font-weight="normal" textLength="25.314" lengthAdjust="spacingAndGlyphs">RA5</text>
<text transform="translate(522.124 253) scale(1 1.1181)" x="0" y="0" font-size="13" font-weight="normal" textLength="24.337" lengthAdjust="spacingAndGlyphs">RB1</text>
<text transform="translate(389.084 274) scale(1 1.1181)" x="0" y="0" font-size="13" font-weight="normal" textLength="25.273" lengthAdjust="spacingAndGlyphs">RE0</text>
<text transform="translate(522.129 274) scale(1 1.1181)" x="0" y="0" font-size="13" font-weight="normal" textLength="24.207" lengthAdjust="spacingAndGlyphs">RB0</text>
<text transform="translate(389.169 295) scale(1 1.1181)" x="0" y="0" font-size="13" font-weight="normal" textLength="23.265" lengthAdjust="spacingAndGlyphs">RE1</text>
<text transform="translate(518.093 295) scale(1 1.1181)" x="0" y="0" font-size="13" font-weight="normal" textLength="27.377" lengthAdjust="spacingAndGlyphs">VDD</text>
<text transform="translate(389.078 316) scale(1 1.1181)" x="0" y="0" font-size="13" font-weight="normal" textLength="25.430" lengthAdjust="spacingAndGlyphs">RE2</text>
<text transform="translate(518.090 316) scale(1 1.1181)" x="0" y="0" font-size="13" font-weight="normal" textLength="27.388" lengthAdjust="spacingAndGlyphs">VSS</text>
<text transform="translate(389.093 337) scale(1 1.1181)" x="0" y="0" font-size="13" font-weight="normal" textLength="27.377" lengthAdjust="spacingAndGlyphs">VDD</text>
<text transform="translate(522.153 337) scale(1 1.1181)" x="0" y="0" font-size="13" font-weight="normal" textLength="24.308" lengthAdjust="spacingAndGlyphs">RD7</text>
<text transform="translate(389.090 358) scale(1 1.1181)" x="0" y="0" font-size="13" font-weight="normal" textLength="27.388" lengthAdjust="spacingAndGlyphs">VSS</text>
<text transform="translate(522.157 358) scale(1 1.1181)" x="0" y="0" font-size="13" font-weight="normal" textLength="24.226" lengthAdjust="spacingAndGlyphs">RD6</text>
<text transform="translate(389.578 379) scale(1 1.1181)" x="0" y="0" font-size="13" font-weight="normal" textLength="32.861" lengthAdjust="spacingAndGlyphs">OSC1</text>
<text transform="translate(522.158 379) scale(1 1.1181)" x="0" y="0" font-size="13" font-weight="normal" textLength="24.200" lengthAdjust="spacingAndGlyphs">RD5</text>
<text transform="translate(389.542 400) scale(1 1.1181)" x="0" y="0" font-size="13" font-weight="normal" textLength="34.953" lengthAdjust="spacingAndGlyphs">OSC2</text>
<text transform="translate(522.164 400) scale(1 1.1181)" x="0" y="0" font-size="13" font-weight="normal" textLength="24.038" lengthAdjust="spacingAndGlyphs">RD4</text>
<text transform="translate(389.116 421) scale(1 1.1181)" x="0" y="0" font-size="13" font-weight="normal" textLength="25.227" lengthAdjust="spacingAndGlyphs">RC0</text>
<text transform="translate(522.153 421) scale(1 1.1181)" x="0" y="0" font-size="13" font-weight="normal" textLength="24.308" lengthAdjust="spacingAndGlyphs">RC7</text>
<text transform="translate(389.198 442) scale(1 1.1181)" x="0" y="0" font-size="13" font-weight="normal" textLength="23.219" lengthAdjust="spacingAndGlyphs">RC1</text>
<text transform="translate(522.157 442) scale(1 1.1181)" x="0" y="0" font-size="13" font-weight="normal" textLength="24.226" lengthAdjust="spacingAndGlyphs">RC6</text>
<text transform="translate(389.109 463) scale(1 1.1181)" x="0" y="0" font-size="13" font-weight="normal" textLength="25.379" lengthAdjust="spacingAndGlyphs">RC2</text>
<text transform="translate(522.158 463) scale(1 1.1181)" x="0" y="0" font-size="13" font-weight="normal" textLength="24.200" lengthAdjust="spacingAndGlyphs">RC5</text>
<text transform="translate(389.113 484) scale(1 1.1181)" x="0" y="0" font-size="13" font-weight="normal" textLength="25.293" lengthAdjust="spacingAndGlyphs">RC3</text>
<text transform="translate(522.164 484) scale(1 1.1181)" x="0" y="0" font-size="13" font-weight="normal" textLength="24.038" lengthAdjust="spacingAndGlyphs">RC4</text>
<text transform="translate(389.116 505) scale(1 1.1181)" x="0" y="0" font-size="13" font-weight="normal" textLength="25.227" lengthAdjust="spacingAndGlyphs">RD0</text>
<text transform="translate(522.157 505) scale(1 1.1181)" x="0" y="0" font-size="13" font-weight="normal" textLength="24.226" lengthAdjust="spacingAndGlyphs">RD3</text>
<text transform="translate(389.198 526) scale(1 1.1181)" x="0" y="0" font-size="13" font-weight="normal" textLength="23.219" lengthAdjust="spacingAndGlyphs">RD1</text>
<text transform="translate(522.153 526) scale(1 1.1181)" x="0" y="0" font-size="13" font-weight="normal" textLength="24.308" lengthAdjust="spacingAndGlyphs">RD2</text>
<text transform="translate(216.843 414) scale(1 1.1181)" x="0" y="0" font-size="13" font-weight="normal" textLength="38.674" lengthAdjust="spacingAndGlyphs">4 MHz</text>
<text transform="translate(769.090 197) scale(1 1.1181)" x="0" y="0" font-size="13" font-weight="normal" textLength="27.388" lengthAdjust="spacingAndGlyphs">VSS</text>
<text transform="translate(766.093 218) scale(1 1.1181)" x="0" y="0" font-size="13" font-weight="normal" textLength="27.377" lengthAdjust="spacingAndGlyphs">VDD</text>
<text transform="translate(778.092 239) scale(1 1.1181)" x="0" y="0" font-size="13" font-weight="normal" textLength="16.278" lengthAdjust="spacingAndGlyphs">V0</text>
<text transform="translate(776.064 260) scale(1 1.1181)" x="0" y="0" font-size="13" font-weight="normal" textLength="18.394" lengthAdjust="spacingAndGlyphs">RS</text>
<text transform="translate(762.060 281) scale(1 1.1181)" x="0" y="0" font-size="13" font-weight="normal" textLength="30.998" lengthAdjust="spacingAndGlyphs">R/W*</text>
<text transform="translate(743.062 302) scale(1 1.1181)" x="0" y="0" font-size="13" font-weight="normal" textLength="52.358" lengthAdjust="spacingAndGlyphs">ENABLE</text>
<text transform="translate(769.129 323) scale(1 1.1181)" x="0" y="0" font-size="13" font-weight="normal" textLength="24.207" lengthAdjust="spacingAndGlyphs">DB0</text>
<text transform="translate(769.169 344) scale(1 1.1181)" x="0" y="0" font-size="13" font-weight="normal" textLength="23.265" lengthAdjust="spacingAndGlyphs">DB1</text>
<text transform="translate(769.078 365) scale(1 1.1181)" x="0" y="0" font-size="13" font-weight="normal" textLength="25.430" lengthAdjust="spacingAndGlyphs">DB2</text>
<text transform="translate(769.081 386) scale(1 1.1181)" x="0" y="0" font-size="13" font-weight="normal" textLength="25.341" lengthAdjust="spacingAndGlyphs">DB3</text>
<text transform="translate(769.090 407) scale(1 1.1181)" x="0" y="0" font-size="13" font-weight="normal" textLength="25.139" lengthAdjust="spacingAndGlyphs">DB4</text>
<text transform="translate(769.083 428) scale(1 1.1181)" x="0" y="0" font-size="13" font-weight="normal" textLength="25.314" lengthAdjust="spacingAndGlyphs">DB5</text>
<text transform="translate(769.081 449) scale(1 1.1181)" x="0" y="0" font-size="13" font-weight="normal" textLength="25.341" lengthAdjust="spacingAndGlyphs">DB6</text>
<text transform="translate(769.123 470) scale(1 1.1181)" x="0" y="0" font-size="13" font-weight="normal" textLength="24.357" lengthAdjust="spacingAndGlyphs">DB7</text>
<text transform="translate(764.132 491) scale(1 1.1181)" x="0" y="0" font-size="13" font-weight="normal" textLength="28.269" lengthAdjust="spacingAndGlyphs">LED-</text>
<text transform="translate(762.066 512) scale(1 1.1181)" x="0" y="0" font-size="13" font-weight="normal" textLength="33.436" lengthAdjust="spacingAndGlyphs">LED+</text>
<text transform="translate(895.518 205) scale(1 1.1181)" x="0" y="0" font-size="13" font-weight="normal" textLength="23.389" lengthAdjust="spacingAndGlyphs">+5V</text>
<text transform="translate(456.066 676) scale(1 1.1181)" x="0" y="0" font-size="13" font-weight="normal" textLength="33.436" lengthAdjust="spacingAndGlyphs">LED+</text>
<text transform="translate(97.518 338) scale(1 1.1181)" x="0" y="0" font-size="13" font-weight="normal" textLength="23.389" lengthAdjust="spacingAndGlyphs">+5V</text>
<text transform="translate(52.503 438) scale(1 1.1181)" x="0" y="0" font-size="13" font-weight="normal" textLength="42.912" lengthAdjust="spacingAndGlyphs">2n3906</text>
</g>
<g filter="url(#binb)">
<text transform="translate(108.513 99) scale(1 1.0382)" x="0" y="0" font-size="14" font-weight="bold" textLength="94.328" lengthAdjust="spacingAndGlyphs">7805 +5v Reg</text>
<text transform="translate(484 372.547) rotate(-90) scale(1 1.0767)" x="0" y="0" font-size="27" font-weight="bold" textLength="135.413" lengthAdjust="spacingAndGlyphs">PIC 18F452</text>
<text transform="translate(708 489.466) rotate(-90) scale(1 1.0767)" x="0" y="0" font-size="27" font-weight="bold" textLength="256.593" lengthAdjust="spacingAndGlyphs">16x2 LCD (HD 44780)</text>
</g>
<defs><filter id="binr" x="0" y="0" width="1035" height="696" filterUnits="userSpaceOnUse" color-interpolation-filters="sRGB"><feComponentTransfer><feFuncA type="table" tableValues="0 0.1 0.6 1 1"/></feComponentTransfer></filter></defs>
<g filter="url(#binr)">
<text transform="translate(359 96.776) rotate(-90) scale(1 1.1181)" x="0" y="0" font-size="13" font-weight="normal" textLength="19.609" lengthAdjust="spacingAndGlyphs">10k</text>
<text transform="translate(277 340.482) rotate(-90) scale(1 1.1181)" x="0" y="0" font-size="13" font-weight="normal" textLength="23.389" lengthAdjust="spacingAndGlyphs">+5V</text>
<text transform="translate(668 298.482) rotate(-90) scale(1 1.1181)" x="0" y="0" font-size="13" font-weight="normal" textLength="23.389" lengthAdjust="spacingAndGlyphs">+5V</text>
<text transform="translate(968 184.350) rotate(-90) scale(1 1.1181)" x="0" y="0" font-size="13" font-weight="normal" textLength="13.181" lengthAdjust="spacingAndGlyphs">5k</text>
</g>
</svg>
</body></html>
